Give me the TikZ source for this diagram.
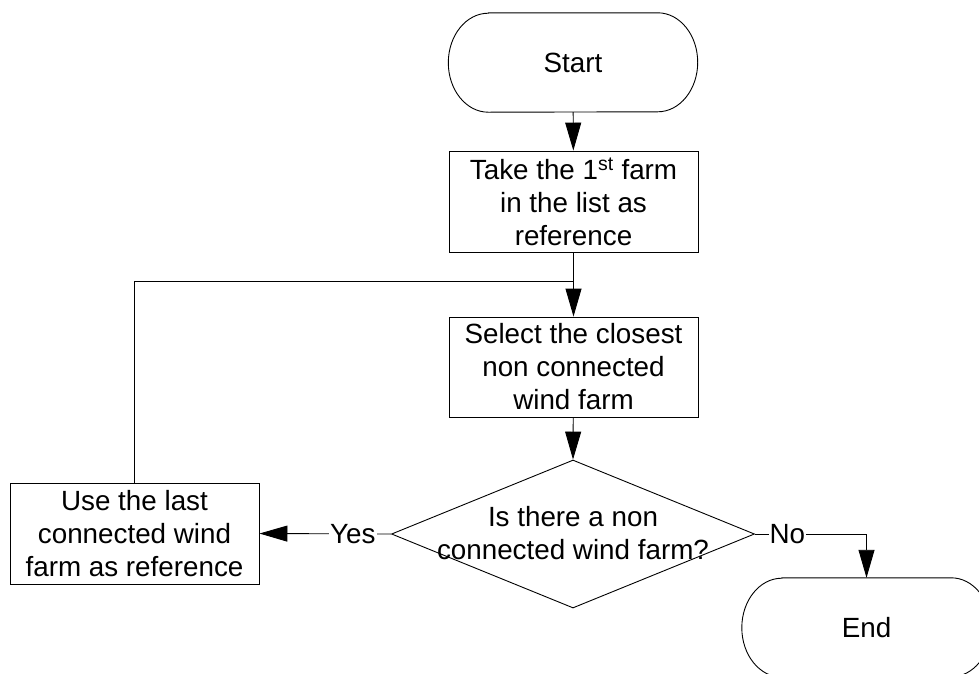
\documentclass[tikz,border=0pt]{standalone}
\usepackage{fontspec}
\setmainfont{Liberation Sans}
\usetikzlibrary{arrows.meta,shapes.geometric}
\newcommand{\terminatorpath}[1]{%
  \draw[line] ([xshift=40pt]#1.north west) -- ([xshift=-40pt]#1.north east)
    arc[start angle=90,end angle=-90,x radius=40pt,y radius=49.5pt]
    -- ([xshift=40pt]#1.south west)
    arc[start angle=270,end angle=90,x radius=40pt,y radius=49.5pt] -- cycle;}
\begin{document}
\begin{tikzpicture}[x=1pt,y=-1pt,
  line/.style={draw=black,line width=0.9pt},
  flow/.style={line,-{Triangle[length=28pt,width=16pt]}},
  txt/.style={font=\fontsize{27.8pt}{33pt}\selectfont,align=center,inner sep=0pt},
  term/.style={txt,minimum width=249pt,minimum height=99pt},
  procbox/.style={txt,line,rectangle,minimum width=249pt,minimum height=101pt},
  decision/.style={line,diamond,minimum width=363pt,minimum height=148pt,inner sep=0pt},
  lab/.style={txt,fill=white,inner sep=1pt}]
\useasboundingbox (0,0) rectangle (979,673);
\node[term] (start) at (573,62.5) {Start};
\terminatorpath{start}
\node[procbox] (b1) at (573.5,201.5) {Take the 1\textsuperscript{st} farm\\in the list as\\reference};
\node[procbox,minimum height=100pt] (b2) at (573.5,367) {Select the closest\\non connected\\wind farm};
\node[decision] (d) at (573,534) {};
\node[txt] (dt) at (573,533) {Is there a non\\connected wind farm?};
\node[procbox] (b3) at (134.5,533.5) {Use the last\\connected wind\\farm as reference};
\node[term] (end) at (866.5,627.5) {End};
\terminatorpath{end}
\coordinate (join) at (573.5,281);
\draw[flow] (start) -- (b1);
\draw[flow] (b1) -- (b2);
\draw[flow] (b2) -- (d.north);
\draw[flow] (d.west) -- node[lab,pos=0.29] {Yes} (b3.east);
\draw[flow] (d.east) -| node[lab,pos=0.145] {No} (end.north);
\draw[line] (b3.north) |- (join);
\end{tikzpicture}
\end{document}
